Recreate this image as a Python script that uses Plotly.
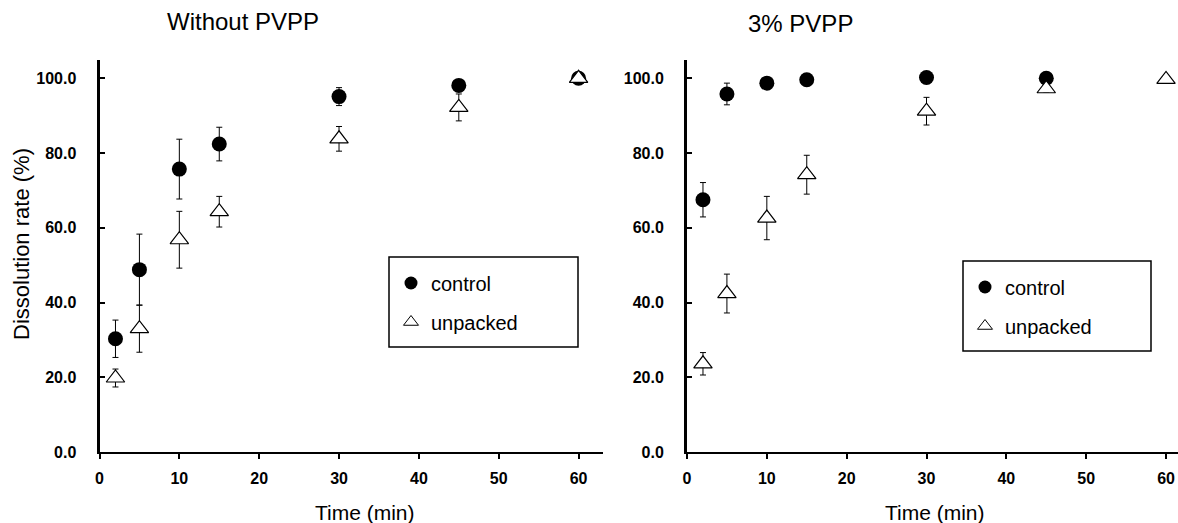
import plotly.graph_objects as go

# ---------------- data ----------------
time_min = [2, 5, 10, 15, 30, 45, 60]

left_control = [30.3, 48.8, 75.7, 82.4, 95.1, 98.1, 100.0]
left_control_sd = [5.0, 9.5, 8.0, 4.5, 2.4, 0.8, 0.3]
left_unpacked = [19.8, 33.0, 56.8, 64.3, 83.8, 92.2, 100.0]
left_unpacked_sd = [2.4, 6.3, 7.6, 4.1, 3.3, 3.6, 0.5]

right_control = [67.5, 95.8, 98.7, 99.6, 100.2, 100.0, None]
right_control_sd = [4.6, 2.9, 0.6, 0.4, 0.3, 0.3, None]
right_unpacked = [23.6, 42.4, 62.6, 74.2, 91.2, 97.2, 99.7]
right_unpacked_sd = [3.0, 5.2, 5.8, 5.2, 3.7, 1.0, 0.3]

panel_titles = ["Without PVPP", "3% PVPP"]
series_names = ["control", "unpacked"]
x_title = "Time (min)"
y_title = "Dissolution rate (%)"
y_ticks = [0, 20, 40, 60, 80, 100]
x_ticks = [0, 10, 20, 30, 40, 50, 60]

# ---------------- figure ----------------
W, H = 1178, 523
FONT = "Liberation Sans, Arial, sans-serif"


def px_x(p):
    return p / W


def px_y(p):
    return (H - p) / H


fig = go.Figure()

panels = [
    ("x", "y", left_control, left_control_sd, left_unpacked, left_unpacked_sd),
    ("x2", "y2", right_control, right_control_sd, right_unpacked, right_unpacked_sd),
]

for xa, ya, c, csd, u, usd in panels:
    fig.add_trace(go.Scatter(
        x=time_min, y=c, xaxis=xa, yaxis=ya, mode="markers",
        marker=dict(symbol="circle", size=15, color="black", line=dict(width=0)),
        error_y=dict(type="data", array=csd, symmetric=True, color="black",
                     thickness=1, width=3),
        showlegend=False, name=series_names[0],
    ))
    fig.add_trace(go.Scatter(
        x=time_min, y=u, xaxis=xa, yaxis=ya, mode="markers",
        marker=dict(symbol="triangle-up", size=16, color="white",
                    line=dict(color="black", width=1.2)),
        error_y=dict(type="data", array=usd, symmetric=True, color="black",
                     thickness=1, width=3),
        showlegend=False, name=series_names[1],
    ))

# legend-only entries
for leg, grp in (("legend", "L"), ("legend2", "R")):
    fig.add_trace(go.Scatter(
        x=[None], y=[None], mode="markers", name=series_names[0],
        marker=dict(symbol="circle", size=13, color="black"),
        legend=leg, legendgroup=grp + "c", showlegend=True,
    ))
    fig.add_trace(go.Scatter(
        x=[None], y=[None], mode="markers", name=series_names[1],
        marker=dict(symbol="triangle-up", size=13, color="white",
                    line=dict(color="black", width=1)),
        legend=leg, legendgroup=grp + "u", showlegend=True,
    ))

y_dom = [px_y(452), px_y(59.6)]

xaxis_common = dict(
    showline=True, linecolor="black", linewidth=2,
    ticks="outside", ticklen=5, tickwidth=1.5, tickcolor="black",
    tickvals=x_ticks, showgrid=False, zeroline=False, automargin=False,
    tickfont=dict(family=FONT, size=16, color="black", weight="bold"),
    ticklabelstandoff=6,
)
yaxis_common = dict(
    showline=True, linecolor="black", linewidth=3,
    ticks="inside", ticklen=5, tickwidth=1.5, tickcolor="black",
    tickvals=y_ticks, tickformat=".1f", showgrid=False, zeroline=False,
    automargin=False, range=[0, 105], domain=y_dom,
    tickfont=dict(family=FONT, size=16, color="black", weight="bold"),
    ticklabelstandoff=17,
)

fig.update_layout(
    width=W, height=H,
    margin=dict(l=0, r=0, t=0, b=0, pad=0, autoexpand=False),
    paper_bgcolor="white", plot_bgcolor="white",
    font=dict(family=FONT, color="black"),
    xaxis=dict(xaxis_common, domain=[px_x(99.5), px_x(603)], range=[0, 63.06], anchor="y"),
    yaxis=dict(yaxis_common, anchor="x"),
    xaxis2=dict(xaxis_common, domain=[px_x(687), 1.0], range=[0, 61.5], anchor="y2"),
    yaxis2=dict(yaxis_common, anchor="x2"),
    legend=dict(x=px_x(391), y=px_y(263.5), xanchor="left", yanchor="top",
                bgcolor="rgba(0,0,0,0)", borderwidth=0,
                font=dict(family=FONT, size=20, color="black"),
                traceorder="grouped", tracegroupgap=10),
    legend2=dict(x=px_x(965), y=px_y(267.5), xanchor="left", yanchor="top",
                 bgcolor="rgba(0,0,0,0)", borderwidth=0,
                 font=dict(family=FONT, size=20, color="black"),
                 traceorder="grouped", tracegroupgap=10),
    shapes=[
        dict(type="rect", xref="paper", yref="paper",
             x0=px_x(389), x1=px_x(578), y0=px_y(347), y1=px_y(257),
             line=dict(color="black", width=1.5)),
        dict(type="rect", xref="paper", yref="paper",
             x0=px_x(963), x1=px_x(1151), y0=px_y(351), y1=px_y(261),
             line=dict(color="black", width=1.5)),
    ],
    annotations=[
        dict(text=panel_titles[0], x=px_x(243), y=px_y(22), xref="paper", yref="paper",
             showarrow=False, xanchor="center", yanchor="middle",
             font=dict(family=FONT, size=24, color="black")),
        dict(text=panel_titles[1], x=px_x(800), y=px_y(23), xref="paper", yref="paper",
             showarrow=False, xanchor="center", yanchor="middle",
             font=dict(family=FONT, size=24, color="black")),
        dict(text=y_title, x=px_x(22), y=px_y(244), xref="paper", yref="paper",
             showarrow=False, xanchor="center", yanchor="middle", textangle=-90,
             font=dict(family=FONT, size=22, color="black")),
        dict(text=x_title, x=px_x(365), y=px_y(512), xref="paper", yref="paper",
             showarrow=False, xanchor="center", yanchor="middle",
             font=dict(family=FONT, size=21, color="black")),
        dict(text=x_title, x=px_x(935), y=px_y(512), xref="paper", yref="paper",
             showarrow=False, xanchor="center", yanchor="middle",
             font=dict(family=FONT, size=21, color="black")),
    ],
)

fig.write_html(
    "out.html",
    config={"displayModeBar": False},
    post_script="document.body.style.margin='0';document.body.style.overflow='hidden';",
)
